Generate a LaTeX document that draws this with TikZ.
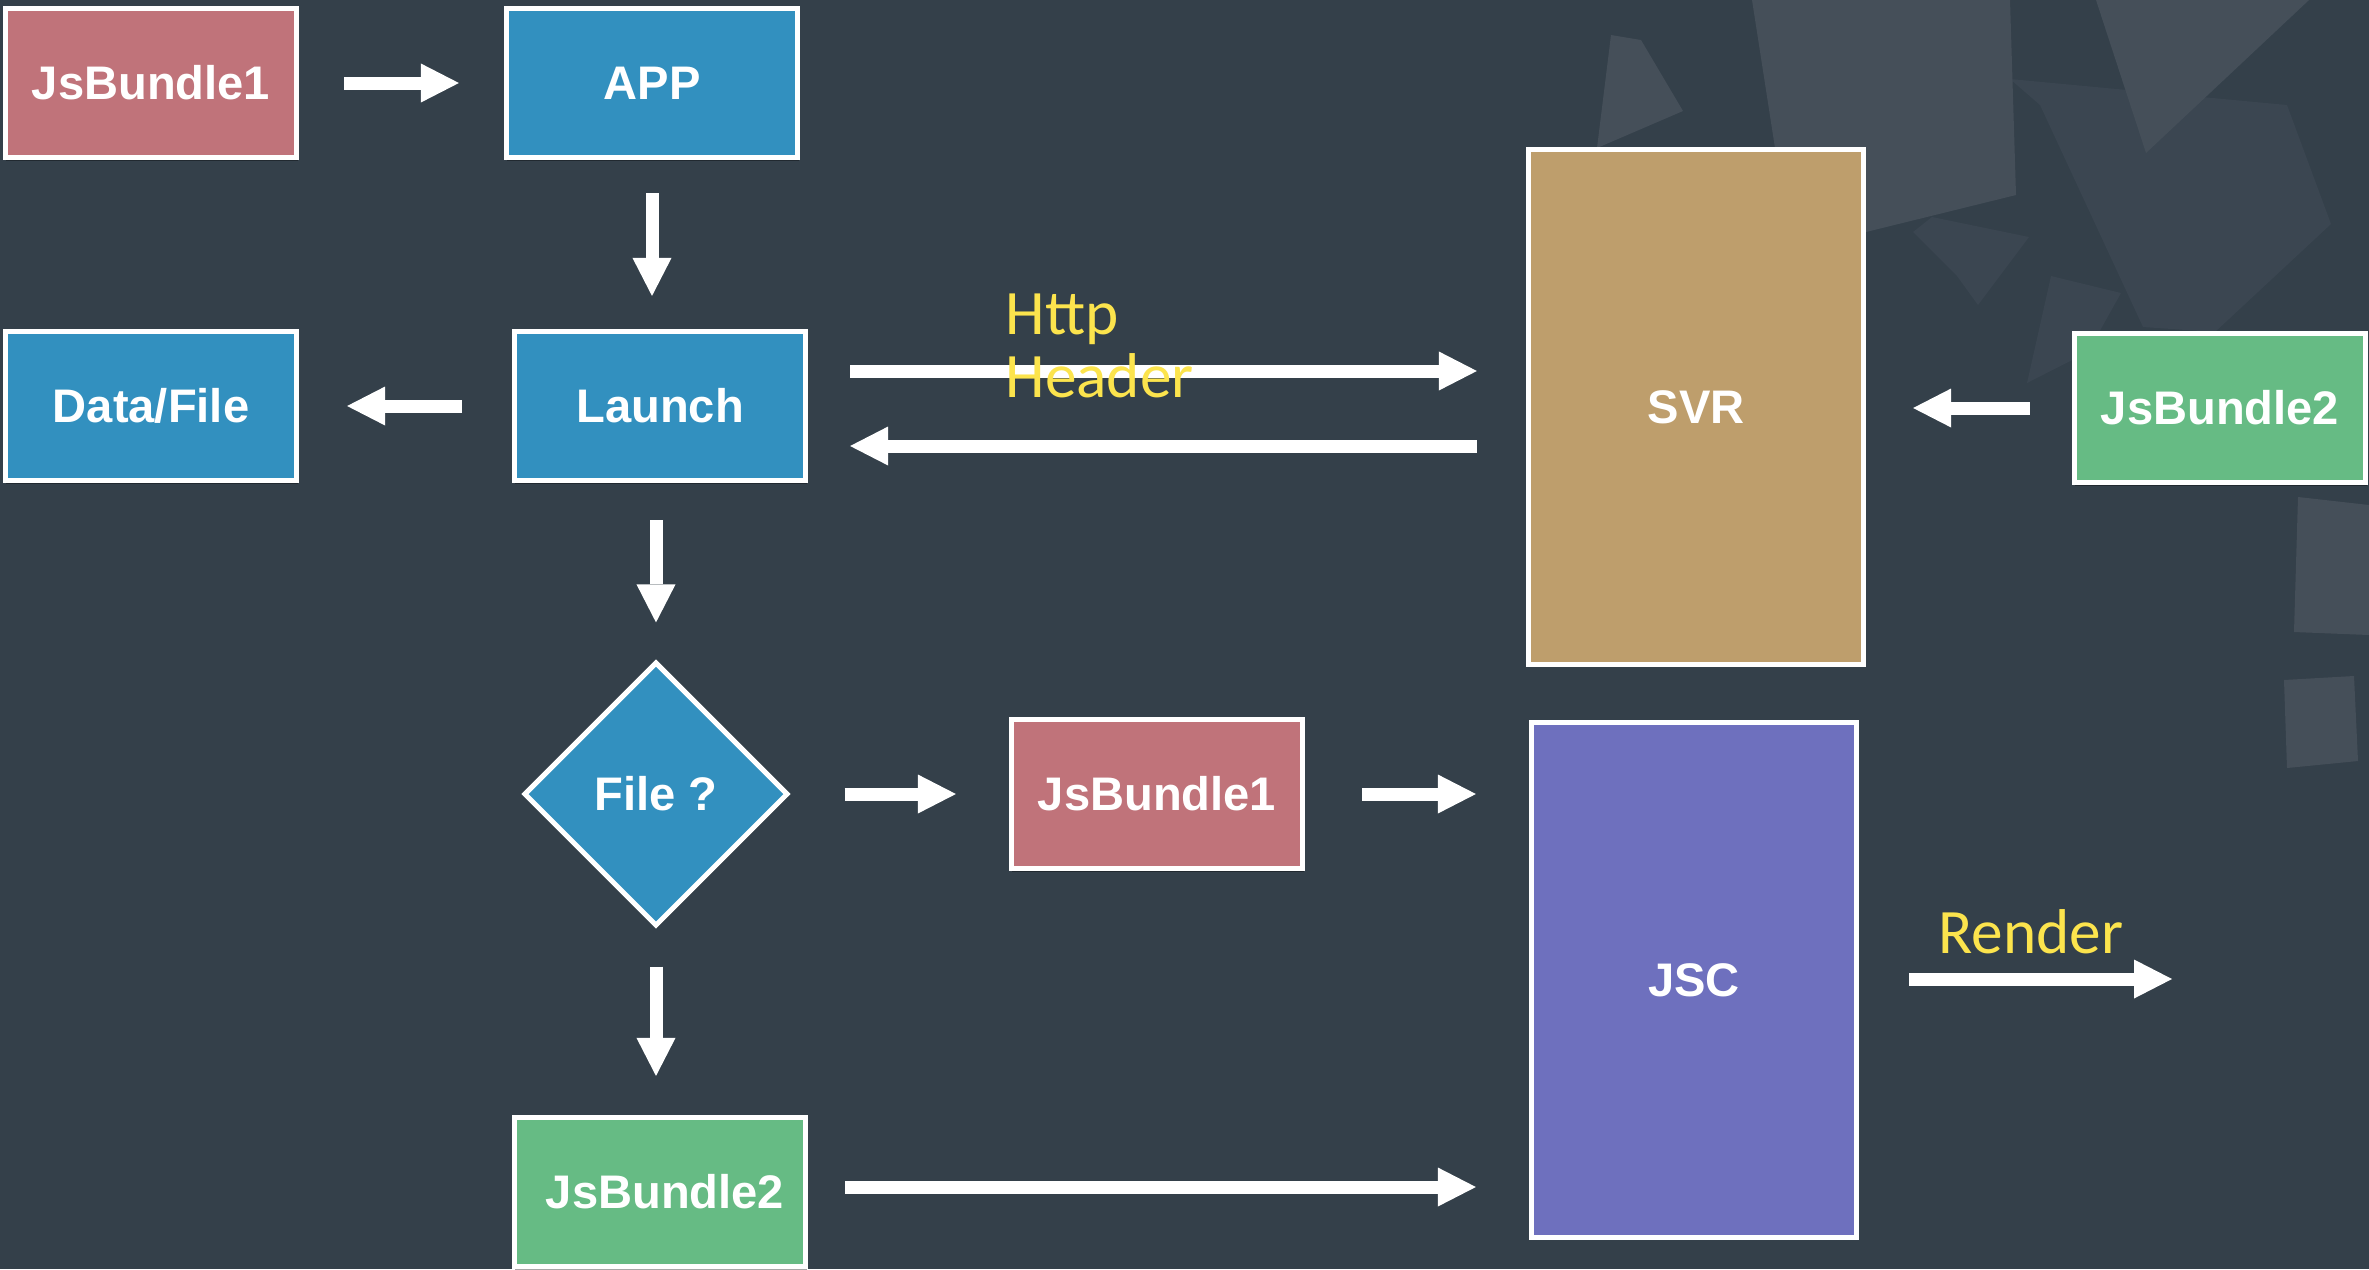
\documentclass[tikz,border=0pt]{standalone}
\usepackage{fontspec}
\setmainfont{Liberation Sans}
\newfontfamily\notefont{Carlito}
\usetikzlibrary{shapes.geometric,arrows.meta,calc,shadows}
\definecolor{bgslate}{RGB}{52,64,74}
\definecolor{decolight}{RGB}{69,79,89}
\definecolor{decomid}{RGB}{59,70,81}
\definecolor{bundlered}{RGB}{192,115,122}
\definecolor{appblue}{RGB}{50,144,191}
\definecolor{svrtan}{RGB}{190,158,108}
\definecolor{bundlegreen}{RGB}{102,187,132}
\definecolor{jscpurple}{RGB}{110,112,190}
\definecolor{noteyellow}{RGB}{252,228,77}
\tikzset{
  box/.style={draw=white, line width=0.05cm, text=white, inner sep=0pt,
    font=\fontsize{13.4pt}{16pt}\selectfont\bfseries,
    minimum width=2.91cm, minimum height=1.49cm,
    drop shadow={shadow xshift=0.01cm, shadow yshift=-0.03cm, opacity=0.35, fill=black}},
  tallbox/.style={box, minimum height=5.14cm},
  flow/.style={draw=white, line width=0.13cm,
    -{Triangle[width=0.39cm, length=0.38cm, line width=0pt]}},
  note/.style={text=noteyellow, inner sep=0pt,
    font=\notefont\fontsize{18pt}{17.9pt}\selectfont},
  deco/.style={fill=decolight},
  decodim/.style={fill=decomid}
}
\begin{document}
\begin{tikzpicture}[x=0.01cm, y=-0.01cm]
\useasboundingbox (0,0) rectangle (2369,1269);
\fill[bgslate] (0,0) rectangle (2369,1269);

\fill[decodim] (2010,79) -- (2287,105) -- (2331,224) -- (2215,332) -- (2143,327) -- (2040,105) -- cycle;
\fill[deco] (1752,0) -- (2010,0) -- (2016,195) -- (1866,232) -- (1775,148) -- cycle;
\fill[deco] (1611,35) -- (1641,40) -- (1683,111) -- (1597,148) -- cycle;
\fill[deco] (2096,0) -- (2309,0) -- (2146,153) -- cycle;
\fill[decodim] (1913,232) -- (1932,217) -- (2029,237) -- (1978,305) -- (1957,276) -- cycle;
\fill[decodim] (2051,276) -- (2121,293) -- (2088,352) -- (2027,383) -- cycle;
\fill[deco] (2298,497) -- (2369,505) -- (2369,635) -- (2294,632) -- cycle;
\fill[deco] (2284,680) -- (2354,676) -- (2358,761) -- (2287,768) -- cycle;

\node[box, fill=bundlered] (jsbundleA) at (151,83) {JsBundle1};
\node[box, fill=appblue] (app) at (652,83) {APP};
\node[box, fill=appblue] (launch) at (660,406) {Launch};
\node[box, fill=appblue] (datafile) at (151,406) {Data/File};
\node[box, diamond, aspect=1, minimum width=2.64cm, minimum height=2.64cm, fill=appblue] (filecheck) at (656,794) {File ?};
\node[box, fill=bundlered] (jsbundleB) at (1157,794) {JsBundle1};
\node[box, fill=bundlegreen] (jsbundleC) at (660,1192) {\hspace{0.1cm}JsBundle2};
\node[tallbox, minimum width=3.35cm, fill=svrtan] (svr) at (1696,407) {SVR};
\node[box, fill=bundlegreen] (jsbundleD) at (2220,408) {JsBundle2};
\node[tallbox, minimum width=3.25cm, fill=jscpurple] (jsc) at (1694,980) {JSC};
\coordinate (screen) at (2172,979);

\draw[flow, shorten <=0.45cm, shorten >=0.45cm] (jsbundleA.east) -- (app.west);
\draw[flow, shorten <=0.33cm, shorten >=0.33cm] (app.south) -- (app.south |- launch.north);
\draw[flow, shorten <=0.50cm, shorten >=0.48cm] (launch.west) -- (datafile.east);
\draw[flow, shorten <=0.37cm, shorten >=0.37cm] (filecheck.north |- launch.south) -- (filecheck.north);
\draw[flow, shorten <=0.54cm, shorten >=0.53cm] (filecheck.east) -- (jsbundleB.west);
\draw[flow, shorten <=0.57cm, shorten >=0.53cm] (jsbundleB.east) -- (jsbundleB.east -| jsc.west);
\draw[flow, shorten <=0.38cm, shorten >=0.39cm] (filecheck.south) -- (filecheck.south |- jsbundleC.north);
\draw[flow, shorten <=0.37cm, shorten >=0.53cm] ($(jsbundleC.east)+(0,-5)$) -- ($(jsbundleC.east -| jsc.west)+(0,-5)$);
\draw[flow, shorten <=0.42cm, shorten >=0.49cm] ($(launch.east)+(0,-35)$) -- ($(launch.east -| svr.west)+(0,-35)$);
\draw[flow, shorten <=0.49cm, shorten >=0.42cm] ($(launch.east -| svr.west)+(0,40)$) -- ($(launch.east)+(0,40)$);
\draw[flow, shorten <=0.42cm, shorten >=0.47cm] (jsbundleD.west) -- (svr.east |- jsbundleD.west);
\draw[flow, shorten <=0.50cm] (jsc.east |- screen) -- (screen);

\node[note, anchor=north west, align=left] (httpnote) at (1005,293) {Http\\Header};
\node[note, anchor=base] (rendernote) at (2031,953) {Render};
\end{tikzpicture}
\end{document}
